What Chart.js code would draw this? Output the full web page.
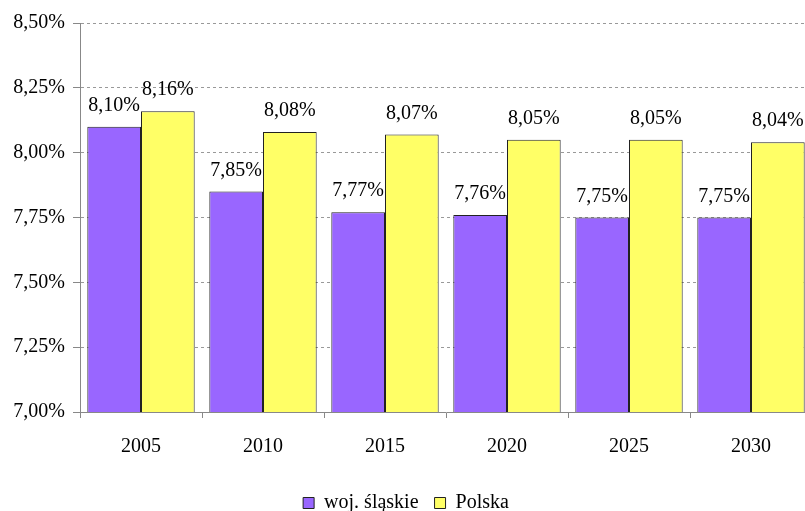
<!DOCTYPE html>
<html>
<head>
<meta charset="utf-8">
<script src="https://cdn.jsdelivr.net/npm/chart.js@4"></script>
<style>
  html, body { margin: 0; padding: 0; background: #fff; overflow: hidden; }
  #wrap { width: 812px; height: 523px; }
</style>
</head>
<body>
<div id="wrap"><canvas id="grafico"></canvas></div>
<script>
// dane wykresu
const lata = ['2005', '2010', '2015', '2020', '2025', '2030'];
const slaskie = [8.10, 7.85, 7.77, 7.76, 7.75, 7.75];
const polska = [8.16, 8.08, 8.07, 8.05, 8.05, 8.04];
const osY = { min: 7.0, max: 8.5, krok: 0.25 };

const FONT = '"Liberation Serif", "Times New Roman", serif';
const fmt = (v) => v.toFixed(2).replace('.', ',') + '%';

// etykiety nad słupkami
const etykiety = {
    id: 'etykiety',
    afterDatasetsDraw(chart) {
        const ctx = chart.ctx;
        ctx.save();
        ctx.font = '20px ' + FONT;
        ctx.fillStyle = '#000';
        ctx.textAlign = 'center';
        ctx.textBaseline = 'alphabetic';
        chart.data.datasets.forEach((ds, i) => {
            chart.getDatasetMeta(i).data.forEach((bar, j) => {
                ctx.fillText(fmt(ds.data[j]), bar.x, bar.y - 16);
            });
        });
        ctx.restore();
    }
};

new Chart(document.getElementById('grafico'), {
    type: 'bar',
    data: {
        labels: lata,
        datasets: [
            {
                label: 'woj. śląskie',
                data: slaskie,
                backgroundColor: '#9966FF',
                borderColor: '#222222',
                borderWidth: 1,
                categoryPercentage: 0.88,
                barPercentage: 1.0
            },
            {
                label: 'Polska',
                data: polska,
                backgroundColor: '#FFFF66',
                borderColor: '#222222',
                borderWidth: 1,
                categoryPercentage: 0.88,
                barPercentage: 1.0
            }
        ]
    },
    options: {
        responsive: true,
        maintainAspectRatio: false,
        animation: false,
        layout: { padding: { top: 23, right: 0, bottom: 0, left: 0 } },
        plugins: {
            legend: {
                position: 'bottom',
                labels: {
                    color: '#000',
                    font: { family: FONT, size: 20 },
                    boxWidth: 11,
                    boxHeight: 11,
                    padding: 16
                }
            },
            tooltip: { enabled: false }
        },
        scales: {
            y: {
                min: osY.min,
                max: osY.max,
                ticks: {
                    stepSize: osY.krok,
                    color: '#000',
                    font: { family: FONT, size: 20 },
                    padding: 8,
                    callback: (v) => fmt(v)
                },
                grid: {
                    color: '#999999',
                    tickColor: '#888888',
                    tickLength: 7,
                    tickBorderDash: []
                },
                border: { display: true, color: '#888888', dash: [3, 3] },
                afterFit: (s) => { s.width = 80; }
            },
            x: {
                ticks: {
                    color: '#000',
                    font: { family: FONT, size: 20 },
                    padding: 17
                },
                grid: {
                    offset: true,
                    drawOnChartArea: false,
                    color: '#888888',
                    tickLength: 6
                },
                border: { display: true, color: '#888888' },
                afterFit: (s) => { s.height = 65; }
            }
        }
    },
    plugins: [etykiety]
});
</script>
</body>
</html>
